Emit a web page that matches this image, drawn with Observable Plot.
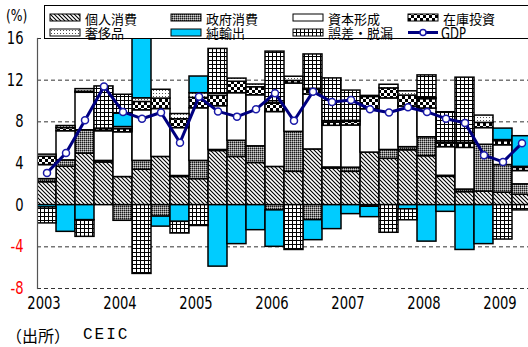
<!DOCTYPE html>
<html><head><meta charset="utf-8">
<script src="https://cdn.jsdelivr.net/npm/d3@7"></script>
<script src="https://cdn.jsdelivr.net/npm/@observablehq/plot@0.6"></script>
<style>
html,body{margin:0;padding:0;background:#fff}
body{width:528px;height:347px;overflow:hidden;position:relative;font-family:"Noto Sans CJK JP",sans-serif}
#chart{position:absolute;left:0;top:0}
#cap1{position:absolute;left:6px;top:325px;font-size:16px;color:#000;font-family:"Noto Sans CJK JP",sans-serif;line-height:20px;letter-spacing:0px}
#cap2{position:absolute;left:83px;top:325px;font-size:16px;color:#000;font-family:"Liberation Mono","DejaVu Sans Mono",monospace;letter-spacing:2px;line-height:20px}
</style></head><body>
<div id="chart"></div>
<div id="cap1">（出所）</div><div id="cap2">CEIC</div>
<script>
// ---- data ----
const years = ["2003","2004","2005","2006","2007","2008","2009"];
const quarters = [];
years.forEach(y => [1,2,3,4].forEach(q => quarters.push(y + "Q" + q)));
quarters.length = 26; // 2003Q1 - 2009Q2

const seriesNames = ["個人消費","政府消費","資本形成","在庫投資","奢侈品","純輸出","誤差・脱漏"];
const personalConsumption   = [2.2,3.7,4.95,4.1,2.7,3.4,4.63,2.7,2.5,5.2,4.63,4.05,3.67,3.2,5.35,3.52,3.2,5.05,4.45,5.27,4.7,2.72,1.25,1.3,1.2,1.0];
const governmentConsumption = [0.3,0.6,2.24,0.15,-1.5,0.85,-1.1,0.1,1.75,0.1,1.55,1.6,-0.5,3.84,-1.44,0.1,0.4,-0.15,0.85,0.3,1.82,0.1,0.25,4.5,2.65,1.0];
const capitalFormation      = [1.35,2.8,3.6,2.85,4.3,4.86,4.6,4.6,5.05,4.2,4.57,4.9,5.27,4.64,5.27,4.0,4.05,4.16,4.95,3.9,2.76,2.75,4.0,1.6,1.9,1.28];
const inventoryInvestment   = [0.8,0.3,0.1,0.2,0.3,0.8,1.0,0.85,1.0,1.0,1.1,0.77,0.8,0.25,0.45,0.3,0.35,1.18,0.96,1.05,0.9,0.35,0.4,0.5,0.4,0.3];
const luxuryGoods           = [0.2,0.2,0.25,0.05,0.2,0.35,0.85,0.5,0.45,0.2,0.3,0.26,0.1,0.4,0.1,0.15,0.1,0.1,0.35,0.41,0.1,0.1,0.1,0.7,0.1,0.1];
const netExports            = [-0.22,-2.56,-1.44,0,1.3,6.0,-0.96,-1.6,1.6,-5.9,-3.74,-2.4,-3.5,0,-1.92,-2.3,-0.86,-1.0,0,-0.4,-3.5,-0.64,-4.3,-3.74,1.1,2.94];
const errorsOmissions       = [-1.53,0,-1.6,4.05,1.8,-6.6,0,-1.12,-2.0,4.3,0,0,4.9,-4.3,3.3,4.1,2.9,0,-2.65,-1.05,2.18,2.9,6.24,0,-3.3,-0.5];
const gdp                   = [3.1,5.0,8.15,11.4,8.95,8.3,8.9,6.0,10.4,9.0,8.5,9.2,10.75,8.1,10.9,9.9,10.1,9.2,8.9,9.4,8.95,8.3,7.9,4.8,4.15,5.95];
const yTicks = [16,12,8,4,0,-4,-8];
const gridTicks = [16,12,8,4,-4,-8];

// ---- styles ----
const fills = ["url(#pHatch)","url(#pGray)","#ffffff","url(#pChecker)","url(#pDots)","#00CCFF","url(#pGrid)"];
const numFont = '"Liberation Sans Narrow","DejaVu Sans Condensed","Liberation Sans",sans-serif';

const seriesValues = [personalConsumption, governmentConsumption, capitalFormation, inventoryInvestment, luxuryGoods, netExports, errorsOmissions];
const rows = [];
seriesValues.forEach((vals, s) => vals.forEach((v, i) => {
  if (v !== 0) rows.push({quarter: quarters[i], series: seriesNames[s], value: v, fill: fills[s]});
}));
const gdpRows = quarters.map((q, i) => ({quarter: q, gdp: gdp[i]}));
const yearRows = years.map(y => ({quarter: y + "Q1", year: y})).filter(d => quarters.includes(d.quarter));

const svg = Plot.plot({
  width: 528, height: 322,
  marginLeft: 37, marginRight: 0, marginTop: 38, marginBottom: 34,
  style: {fontFamily: numFont, fontSize: "17px", background: "white", overflow: "visible"},
  x: {type: "band", domain: quarters, range: [36.7, 531.7], padding: 0, axis: null},
  y: {domain: [-8, 16], axis: null},
  color: {type: "identity"},
  marks: [
    Plot.ruleY(gridTicks, {stroke: "#333", strokeWidth: 1, strokeDasharray: "4,3"}),
    Plot.barY(rows, {x: "quarter", y: "value", fill: "fill", stroke: "black", strokeWidth: 1.5, clip: true}),
    Plot.frame({anchor: "left", stroke: "#555", strokeWidth: 1.2}),
    Plot.line(gdpRows, {x: "quarter", y: "gdp", stroke: "#000080", strokeWidth: 3}),
    Plot.dot(gdpRows, {x: "quarter", y: "gdp", r: 3.5, fill: "white", stroke: "#1a1aa8", strokeWidth: 1.5}),
    Plot.text(yTicks.filter(d => d >= 0), {y: d => d, text: d => String(d), frameAnchor: "left", dx: -14, textAnchor: "end", fill: "black", fontSize: 17}),
    Plot.text(yTicks.filter(d => d < 0), {y: d => d, text: d => String(d), frameAnchor: "left", dx: -14, textAnchor: "end", fill: "#ff0000", fontSize: 17}),
    Plot.text(yearRows, {x: "quarter", text: "year", frameAnchor: "bottom", dy: 20, dx: -3, fill: "black", fontSize: 17})
  ]
});
document.getElementById("chart").appendChild(svg);

const sel = d3.select(svg);
// narrow the numeric labels horizontally
sel.selectAll("text").each(function() {
  const t = this.getAttribute("transform");
  if (t) this.setAttribute("transform", t + " scale(0.86,1)");
});

// ---- patterns ----
const defs = sel.insert("defs", ":first-child");
function pat(id, w, h) {
  return defs.append("pattern").attr("id", id).attr("patternUnits", "userSpaceOnUse").attr("width", w).attr("height", h);
}
let p = pat("pHatch", 4, 4);
p.append("rect").attr("width", 4).attr("height", 4).attr("fill", "white");
p.append("path").attr("d", "M-1,-1L5,5M-1,3L1,5M3,-1L5,1").attr("stroke", "black").attr("stroke-width", 1.1);
p = pat("pGray", 2, 2);
p.append("rect").attr("width", 2).attr("height", 2).attr("fill", "#808080");
p.append("rect").attr("width", 1).attr("height", 1).attr("fill", "#1a1a1a");
p.append("rect").attr("x", 1).attr("y", 1).attr("width", 1).attr("height", 1).attr("fill", "#d0d0d0");
p = pat("pChecker", 6, 6);
p.append("rect").attr("width", 6).attr("height", 6).attr("fill", "white");
p.append("rect").attr("width", 3).attr("height", 3).attr("fill", "black");
p.append("rect").attr("x", 3).attr("y", 3).attr("width", 3).attr("height", 3).attr("fill", "black");
p = pat("pDots", 3, 3);
p.append("rect").attr("width", 3).attr("height", 3).attr("fill", "white");
p.append("rect").attr("width", 1).attr("height", 1).attr("fill", "#555");
p = pat("pGrid", 4, 4);
p.append("rect").attr("width", 4).attr("height", 4).attr("fill", "white");
p.append("rect").attr("width", 4).attr("height", 1).attr("fill", "black");
p.append("rect").attr("width", 1).attr("height", 4).attr("fill", "black");

// ---- (%) label ----
sel.append("text").attr("text-anchor", "start").attr("transform", "translate(6,21) scale(0.86,1)")
  .attr("font-family", numFont).attr("font-size", 16).attr("fill", "black").text("(%)");

// ---- legend ----
const lg = sel.append("g").attr("text-anchor", "start");
lg.append("rect").attr("x", 44.5).attr("y", 5.5).attr("width", 520).attr("height", 33).attr("fill", "white").attr("stroke", "black").attr("stroke-width", 1);
const colX = [50, 171, 293, 408];
const rowY = [14, 29];
const textY = [19.5, 33.5];
const legendItems = seriesNames.map((n, i) => ({name: n, fill: fills[i], col: i % 4, row: Math.floor(i / 4)}));
legendItems.forEach(it => {
  const x = colX[it.col], y = rowY[it.row];
  lg.append("rect").attr("x", x).attr("y", y).attr("width", 30).attr("height", 7).attr("fill", it.fill).attr("stroke", "black").attr("stroke-width", 1);
  lg.append("text").attr("x", x + 35).attr("y", textY[it.row]).attr("dy", "0.36em").attr("text-anchor", "start")
    .attr("font-family", '"Noto Sans CJK JP",sans-serif').attr("font-size", 13).attr("fill", "black").text(it.name);
});
// GDP legend entry
lg.append("line").attr("x1", 408).attr("x2", 438).attr("y1", 32.5).attr("y2", 32.5).attr("stroke", "#000080").attr("stroke-width", 3);
lg.append("circle").attr("cx", 423).attr("cy", 32.5).attr("r", 3).attr("fill", "white").attr("stroke", "#1a1aa8").attr("stroke-width", 1.5);
lg.append("text").attr("text-anchor", "start").attr("transform", "translate(441,33.5) scale(0.86,1)").attr("dy", "0.36em")
  .attr("font-family", numFont).attr("font-size", 15).attr("fill", "black").text("GDP");
</script>
</body></html>
